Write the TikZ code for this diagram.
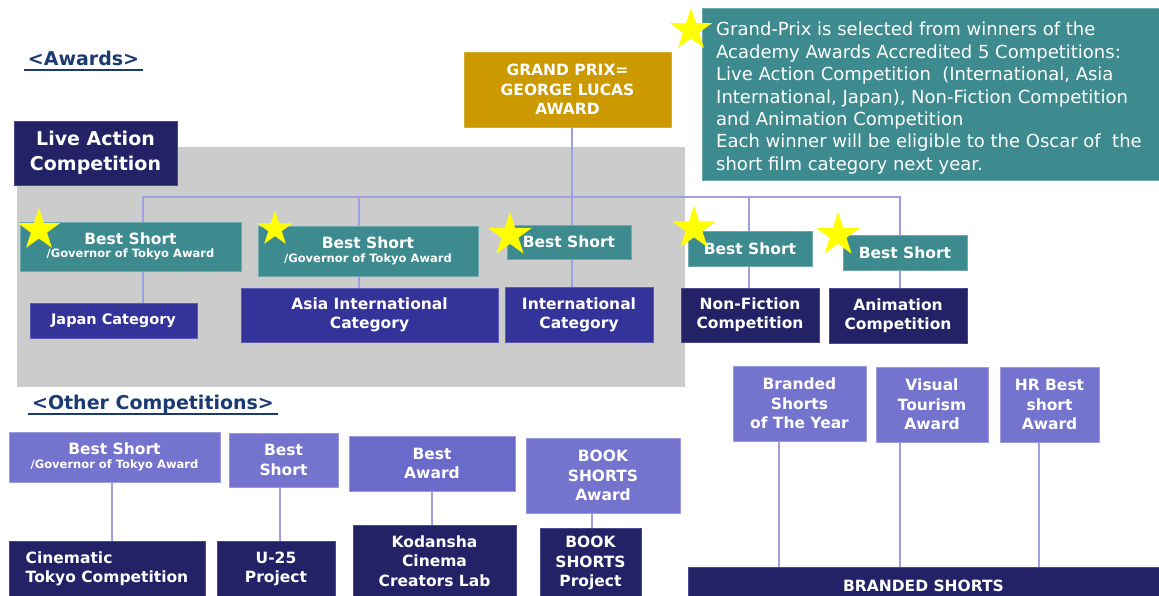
\documentclass[tikz,border=0pt]{standalone}
\usepackage{fontspec}
\setmainfont{DejaVu Sans}
\usetikzlibrary{shapes.geometric}
\definecolor{cTeal}{HTML}{3D8A8F}
\definecolor{cTealE}{HTML}{6FA9AD}
\definecolor{cCat}{HTML}{333399}
\definecolor{cCatE}{HTML}{5C5CB5}
\definecolor{cNavy}{HTML}{232266}
\definecolor{cNavyE}{HTML}{4A4A8A}
\definecolor{cLav}{HTML}{7474CE}
\definecolor{cLavE}{HTML}{9A9ADD}
\definecolor{cLavD}{HTML}{6A6ACB}
\definecolor{cGold}{HTML}{CC9900}
\definecolor{cGray}{HTML}{CCCCCC}
\definecolor{cLine}{HTML}{A0A0E0}
\definecolor{cStar}{HTML}{FFFF00}
\definecolor{cTitle}{HTML}{1B3A72}
\pgfdeclarelayer{back}
\pgfdeclarelayer{mid}
\pgfsetlayers{back,mid,main}
\tikzset{
  lbl/.style={rectangle, inner sep=0pt, align=center, text=white,
    font=\bfseries\fontsize{15.5}{19.4}\selectfont},
  tealbox/.style={lbl, fill=cTeal, draw=cTealE, line width=0.8pt},
  catbox/.style={lbl, fill=cCat, draw=cCatE, line width=0.8pt},
  navybox/.style={lbl, fill=cNavy, draw=cNavyE, line width=0.8pt},
  lavbox/.style={lbl, fill=cLav, draw=cLavE, line width=0.8pt},
  conn/.style={draw=cLine, line width=2pt},
  starmark/.style={star, star points=5, star point ratio=2.6, fill=cStar,
    draw=none, inner sep=0pt, minimum size=44pt},
  ttl/.style={text=cTitle, font=\bfseries\fontsize{19}{23}\selectfont, inner sep=0pt},
  uline/.style={draw=cTitle, line width=1.6pt}
}
\begin{document}
\begin{tikzpicture}[x=1pt,y=-1pt]
\useasboundingbox (0,0) rectangle (1159,595);

% ---------- titles ----------
\node[ttl, anchor=base] (tAw) at (83.5,65) {\textless Awards\textgreater};
\draw[uline] ([shift={(-4,5)}]tAw.base west) -- ([shift={(4,5)}]tAw.base east);
\node[ttl, anchor=base] (tOt) at (153,409) {\textless Other Competitions\textgreater};
\draw[uline] ([shift={(-4,5)}]tOt.base west) -- ([shift={(4,5)}]tOt.base east);

% ---------- awards block ----------
\node[lbl, fill=cGold, draw=cGold!80!white, line width=0.8pt,
      minimum width=207pt, minimum height=75pt] (gp) at (567.5,89.5)
      {GRAND PRIX=\\GEORGE LUCAS\\AWARD};

\node[navybox, font=\bfseries\fontsize{19}{24.5}\selectfont,
      minimum width=163pt, minimum height=64pt] (live) at (95.5,153)
      {Live Action\\Competition};

\node[tealbox, minimum width=221pt, minimum height=49pt] (bsJ) at (130.5,246.5)
      {Best Short\\[-6pt]{\fontsize{11.5}{14}\selectfont /Governor of Tokyo Award}};
\node[catbox, font=\bfseries\fontsize{14.5}{18}\selectfont,
      minimum width=167pt, minimum height=35pt] (japan) at (113.5,320.5)
      {Japan Category};

\node[tealbox, minimum width=220pt, minimum height=50pt] (bsA) at (368,251)
      {Best Short\\[-6pt]{\fontsize{11.5}{14}\selectfont /Governor of Tokyo Award}};
\node[catbox, minimum width=257pt, minimum height=54pt] (asia) at (369.5,315)
      {Asia International\\Category};

\node[tealbox, minimum width=124pt, minimum height=34pt] (bsI) at (569,242)
      {Best Short};
\node[catbox, minimum width=148pt, minimum height=55pt] (intl) at (579,314.5)
      {International\\Category};

\node[tealbox, minimum width=124pt, minimum height=35pt] (bsN) at (750,248.5)
      {Best Short};
\node[navybox, minimum width=138pt, minimum height=54pt] (nf) at (750,315)
      {Non-Fiction\\Competition};

\node[tealbox, minimum width=124pt, minimum height=35pt] (bsAn) at (905,252.5)
      {Best Short};
\node[navybox, minimum width=138pt, minimum height=55pt] (anim) at (898,315.5)
      {Animation\\Competition};

% note box
\node[fill=cTeal, draw=cTealE, line width=1pt, inner sep=0pt,
      minimum width=457pt, minimum height=172pt] (note) at (930.5,94) {};
\node[anchor=north west, inner sep=0pt, text=white, align=left,
      font=\fontsize{18}{22.4}\selectfont] (notetxt) at (716,22)
      {Grand-Prix is selected from winners of the\\
       Academy Awards Accredited 5 Competitions:\\
       Live Action Competition\ \ (International, Asia\\
       International, Japan), Non-Fiction Competition\\
       and Animation Competition\\
       Each winner will be eligible to the Oscar of\ \ the\\
       short film category next year.};

% ---------- other competitions ----------
\node[lavbox, minimum width=211pt, minimum height=50pt] (oBS) at (114.5,457)
      {Best Short\\[-5pt]{\fontsize{11.5}{14}\selectfont /Governor of Tokyo Award}};
\node[lavbox, minimum width=109pt, minimum height=54pt] (oU) at (283.5,460)
      {Best\\Short};
\node[lavbox, fill=cLavD, minimum width=166pt, minimum height=55pt] (oBA) at (432,463.5)
      {Best\\Award};
\node[lavbox, minimum width=154pt, minimum height=75pt] (oBK) at (603,475.5)
      {BOOK\\SHORTS\\Award};

\node[navybox, align=left, minimum width=196pt, minimum height=56pt] (cin) at (107,569)
      {Cinematic\\Tokyo Competition};
\node[navybox, minimum width=118pt, minimum height=56pt] (u25p) at (276,569)
      {U-25\\Project};
\node[navybox, minimum width=163pt, minimum height=72pt] (kod) at (434.5,561)
      {Kodansha\\Cinema\\Creators Lab};
\node[navybox, minimum width=101pt, minimum height=69pt] (bkp) at (590.5,563)
      {BOOK\\SHORTS\\Project};

% ---------- branded shorts ----------
\node[lavbox, minimum width=133pt, minimum height=75pt] (bsy) at (799.5,403.5)
      {Branded\\Shorts\\of The Year};
\node[lavbox, minimum width=112pt, minimum height=75pt] (vta) at (932,404.5)
      {Visual\\Tourism\\Award};
\node[lavbox, minimum width=99pt, minimum height=75pt] (hra) at (1049.5,404.5)
      {HR Best\\short\\Award};
\node[navybox, minimum width=471pt, minimum height=38pt] (brs) at (923.5,586)
      {BRANDED SHORTS};

% ---------- stars ----------
\node[starmark] (stNote) at (691,30) {};
\node[starmark] (stJ) at (39,230) {};
\node[starmark, minimum size=37pt] (stA) at (275,229) {};
\node[starmark, minimum size=46pt] (stI) at (510,235) {};
\node[starmark, minimum size=46pt] (stN) at (694,228.5) {};
\node[starmark, minimum size=46pt] (stAn) at (838,235) {};

% ---------- background zone ----------
\begin{pgfonlayer}{back}
\node[fill=cGray, inner sep=0pt, minimum width=668pt, minimum height=240pt] (zone) at (351,267) {};
\end{pgfonlayer}

% ---------- connectors ----------
\begin{pgfonlayer}{mid}
\coordinate (busL) at (143,197);
\coordinate (busR) at (900,197);
\coordinate (busA) at (359,197);
\coordinate (busC) at (572,197);
\coordinate (busN) at (749,197);
\draw[conn] (japan.north -| busL) -- (busL) -- (busR) -- (anim.north -| busR);
\draw[conn] (busA) -- (asia.north -| busA);
\draw[conn] (gp.south -| busC) -- (intl.north -| busC);
\draw[conn] (busN) -- (nf.north -| busN);

\coordinate (o1) at (112,0);
\coordinate (o2) at (280,0);
\coordinate (o3) at (432,0);
\coordinate (o4) at (592,0);
\draw[conn] (oBS.south -| o1) -- (cin.north -| o1);
\draw[conn] (oU.south -| o2) -- (u25p.north -| o2);
\draw[conn] (oBA.south -| o3) -- (kod.north -| o3);
\draw[conn] (oBK.south -| o4) -- (bkp.north -| o4);

\coordinate (b1) at (779,0);
\coordinate (b2) at (900,0);
\coordinate (b3) at (1039,0);
\draw[conn] (bsy.south -| b1) -- (brs.north -| b1);
\draw[conn] (vta.south -| b2) -- (brs.north -| b2);
\draw[conn] (hra.south -| b3) -- (brs.north -| b3);
\end{pgfonlayer}
\end{tikzpicture}
\end{document}
